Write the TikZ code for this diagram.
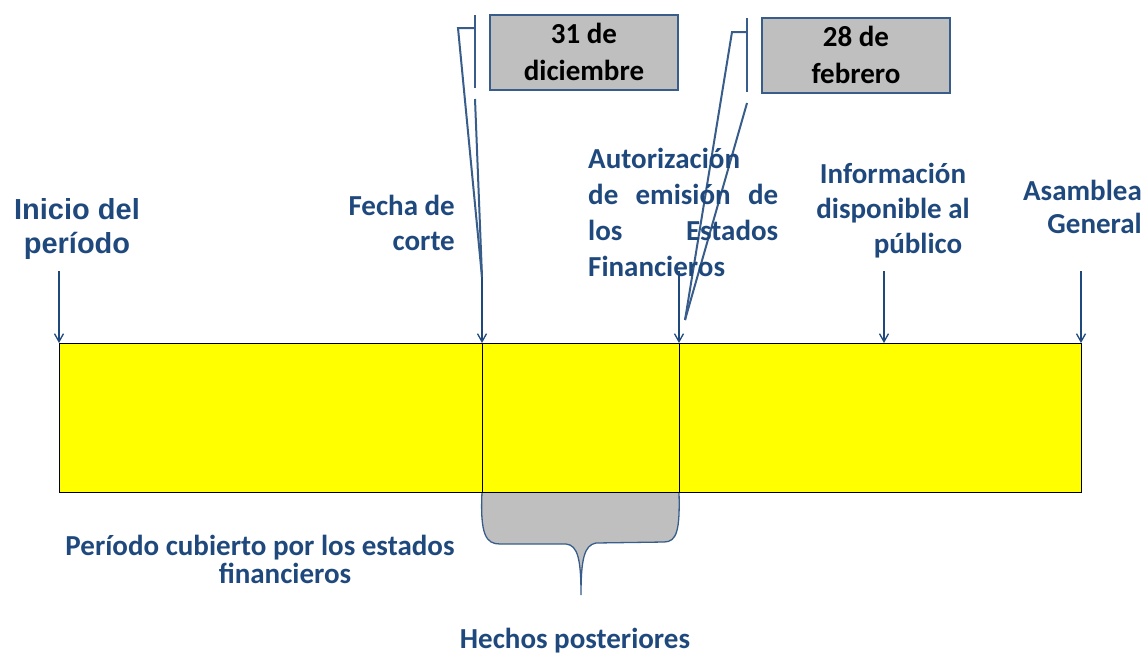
\documentclass[tikz,border=0pt]{standalone}
\usepackage{fontspec}
\setmainfont{Carlito}
\newfontfamily\arialfont{Liberation Sans}
\usetikzlibrary{arrows.meta}
\definecolor{textblue}{HTML}{1F497D}
\definecolor{lineblue}{HTML}{385D8A}
\definecolor{boxgray}{HTML}{BFBFBF}
\definecolor{baryellow}{RGB}{255,255,0}
\newcommand\lblfont{\bfseries\fontsize{29}{35}\selectfont}
\newcommand\bartop{343}
\newcommand\arrtop{271}

\begin{document}
\begin{tikzpicture}[x=1pt,y=-1pt,
    lbl/.style={text=textblue,font=\lblfont,inner sep=0pt},
    datebox/.style={draw=lineblue,line width=2pt,fill=boxgray,font=\bfseries\fontsize{29}{37}\selectfont,
      minimum width=188pt,minimum height=75pt,align=center,inner sep=0pt},
    pointer/.style={draw=textblue,line width=1.3pt,-{Straight Barb[length=8pt,width=9pt]}},
    callout/.style={draw=lineblue,line width=2pt}]
  \useasboundingbox (0,0) rectangle (1148,654);

  \foreach \x/\n in {59/ini,482/cor,679/aut,884/inf,1081/asa} {
    \coordinate (\n) at (\x,\bartop);
    \coordinate (\n-s) at (\x,\arrtop);
  }

  \draw[lineblue,line width=1.3pt,fill=boxgray] (cor |- 0,492)
    .. controls (480,535) and (486,544) .. (500,544) -- (566,544)
    .. controls (578,545) and (581,560) .. (581,595)
    .. controls (581,560) and (584,545) .. (596,543) -- (664,542)
    .. controls (677,542) and (680,530) .. (aut |- 0,492) -- cycle;

  \node[draw=black,fill=baryellow,line width=1pt,inner sep=0pt,anchor=north west,
    minimum width=1022pt,minimum height=149pt] (bar) at (ini) {};
  \draw[line width=1pt] (cor) -- (cor |- bar.south);
  \draw[line width=1pt] (aut) -- (aut |- bar.south);

  \foreach \n in {ini,cor,aut,inf,asa}
    \draw[pointer] (\n-s) -- (\n);

  \node[datebox] (dic) at (584,52) {31 de\\diciembre};
  \node[datebox] (feb) at (856,55) {28 de\\febrero};

  \coordinate (dic-tip) at (482,277);
  \coordinate (feb-tip) at (685,320);
  \draw[callout] (475,15) -- (475,88);
  \draw[callout] (475,28) -- (458,28) -- (dic-tip);
  \draw[callout] (475,99) -- (dic-tip);
  \draw[callout] (747,18) -- (747,92);
  \draw[callout] (747,32) -- (732,32) -- (feb-tip);
  \draw[callout] (747,103) -- (feb-tip);

  \node[lbl,font=\arialfont\bfseries\fontsize{29}{34}\selectfont,align=center,anchor=base]
    (inicio) at (77,253) {Inicio del\\período};
  \node[lbl,align=right,anchor=base east] (fecha) at (455,250) {Fecha de\\corte};
  \node[lbl,font=\bfseries\fontsize{29}{36}\selectfont,text width=190pt,align=left,anchor=base west]
    (autoriz) at (588,168) {Autorización\\de\hfill emisión\hfill de\\los\hfill Estados\\Financieros};
  \node[lbl,align=center,anchor=base] (info) at (893,253)
    {Información\\disponible al\\\hspace*{50pt}público};
  \node[lbl,font=\bfseries\fontsize{29}{33}\selectfont,align=right,anchor=base east]
    (asamblea) at (1142,233) {Asamblea\\General};
  \node[lbl,font=\bfseries\fontsize{29}{28}\selectfont,align=center,anchor=base]
    (cubierto) at (260,583) {Período cubierto por los estados\\\hspace*{50pt}financieros};
  \node[lbl,anchor=base] (hechos) at (575,648) {Hechos posteriores};
\end{tikzpicture}
\end{document}
